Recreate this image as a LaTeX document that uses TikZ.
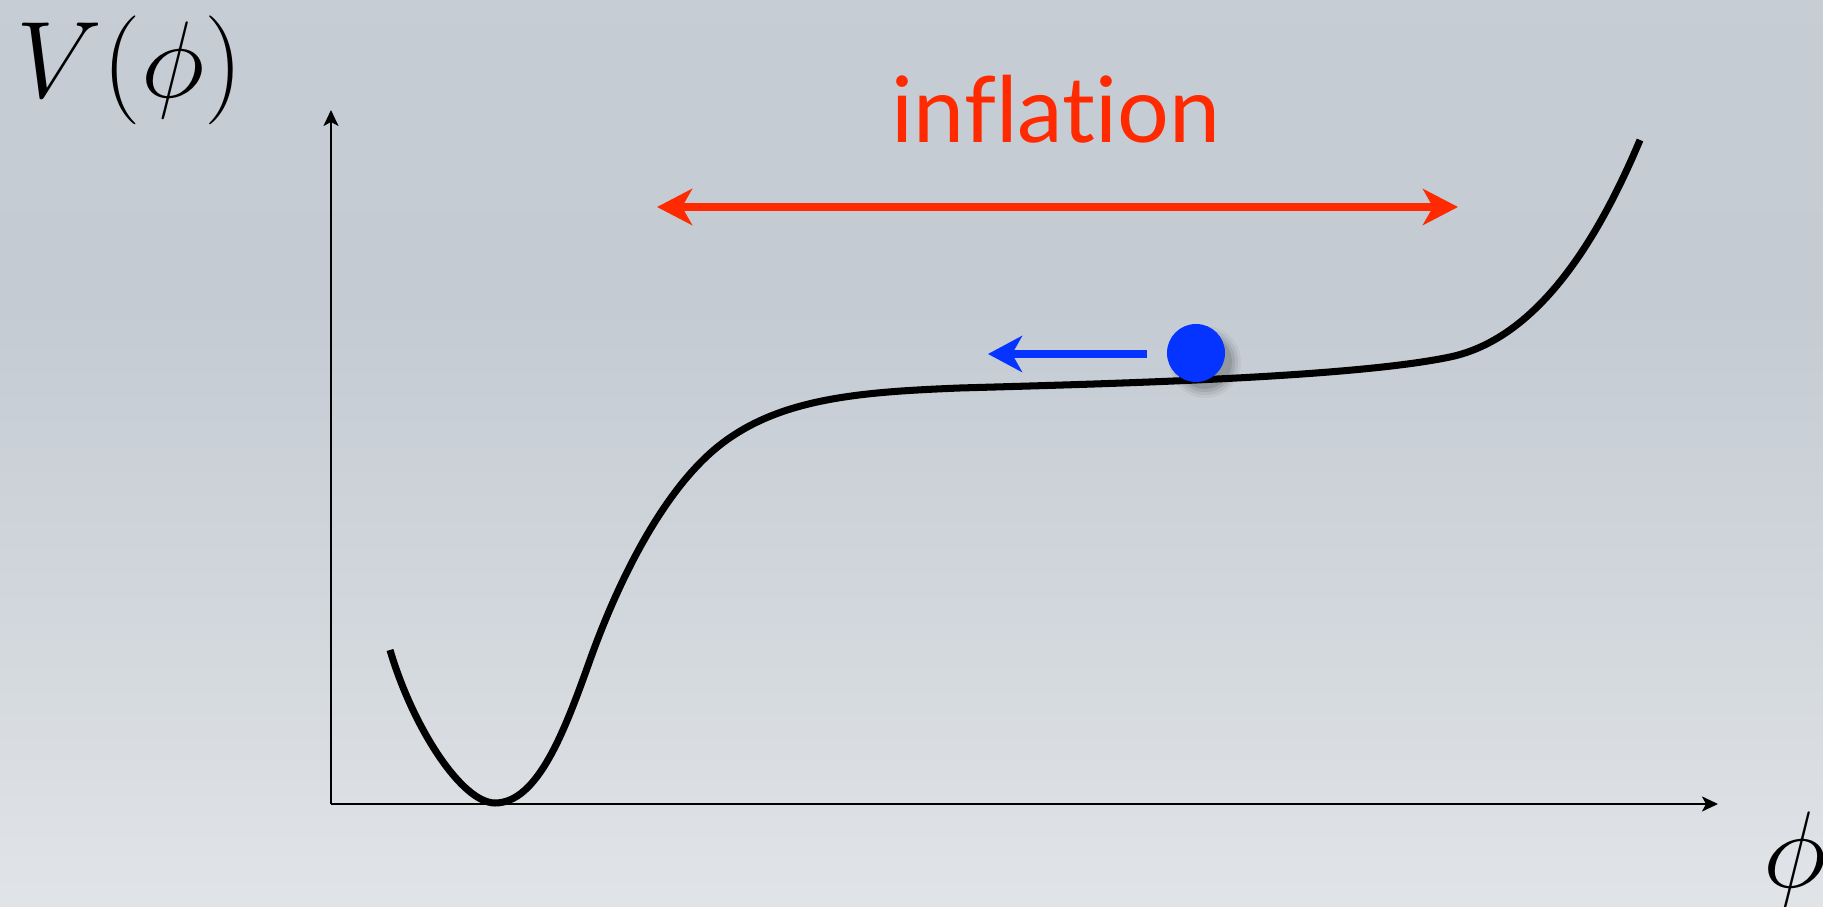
\documentclass[tikz,border=0pt]{standalone}
\usepackage{graphicx}
\usepackage{fontspec}
\newfontfamily\lato[Ligatures={NoCommon,NoRequired,NoContextual}]{Lato}
\usetikzlibrary{arrows.meta}
\definecolor{bgtop}{HTML}{C8CFD7}
\definecolor{bgmid}{HTML}{C4CBD3}
\definecolor{bglow}{HTML}{D3D8DD}
\definecolor{bgbot2}{HTML}{E6E8EB}
\definecolor{bgbot}{HTML}{F0F1F3}
\definecolor{inflred}{HTML}{FF2A00}
\definecolor{ballblue}{HTML}{0533FF}
\pgfdeclareverticalshading{bgshade}{100bp}{
  color(0bp)=(bgbot); color(20bp)=(bgbot2); color(40bp)=(bglow); color(58bp)=(bgmid); color(100bp)=(bgtop)}
\begin{document}
\begin{tikzpicture}[x=0.01cm,y=-0.01cm,
  axis/.style={line width=0.6pt, black, -{Stealth[length=0.16cm,width=0.15cm,inset=0.04cm]}},
  potential/.style={line width=2pt, black, line cap=butt},
  infarrow/.style={line width=0.08cm, inflred, {Stealth[length=0.35cm,width=0.36cm,inset=0.1cm]}-{Stealth[length=0.35cm,width=0.36cm,inset=0.1cm]}},
  rollarrow/.style={line width=0.075cm, ballblue, -{Stealth[length=0.34cm,width=0.36cm,inset=0.1cm]}},
  lbl/.style={inner sep=0pt, anchor=base}]
\useasboundingbox (0,0) rectangle (1823,907);
\shade[shading=bgshade] (0,0) rectangle (1823,907);
% axes
\coordinate (O) at (331,804);
\coordinate (ytop) at (331,110);
\coordinate (xend) at (1718,804);
\draw[axis] (O) -- (ytop);
\draw[axis] (O) -- (xend);
% labels
\node[lbl, anchor=base west] (ylabel) at (16,98) {\scalebox{1.245}{\fontsize{24.88}{30}\selectfont $V(\phi)$}};
\node[lbl] (xlabel) at (1795,888) {\scalebox{1.245}{\fontsize{24.88}{30}\selectfont $\phi$}};
\node[lbl, text=inflred] (infl) at (1056,143) {\lato\fontsize{26}{30}\selectfont inflation};
% potential curve
\draw[potential] (390,650) .. controls (413,728) and (462,803) .. (495,803)
  .. controls (538,803) and (565,730) .. (590,660)
  .. controls (615,590) and (660,492) .. (720,445)
  .. controls (780,398) and (860,392) .. (960,388)
  .. controls (1100,384) and (1350,378) .. (1450,357)
  .. controls (1540,338) and (1600,235) .. (1640,140);
% inflation range arrow
\coordinate (il) at (657,207);
\coordinate (ir) at (1458,207);
\draw[infarrow] (il) -- (ir);
% ball shadow
\foreach \r/\o in {36/0.04,33/0.06,30/0.08,27/0.10}
  \fill[black, opacity=\o] (1205,362) circle (\r);
% ball
\node[circle, fill=ballblue, minimum size=0.58cm, inner sep=0pt] (ball) at (1196,353) {};
% rolling arrow
\coordinate (rt) at (1147,354);
\coordinate (rh) at (988,354);
\draw[rollarrow] (rt) -- (rh);
\end{tikzpicture}
\end{document}
